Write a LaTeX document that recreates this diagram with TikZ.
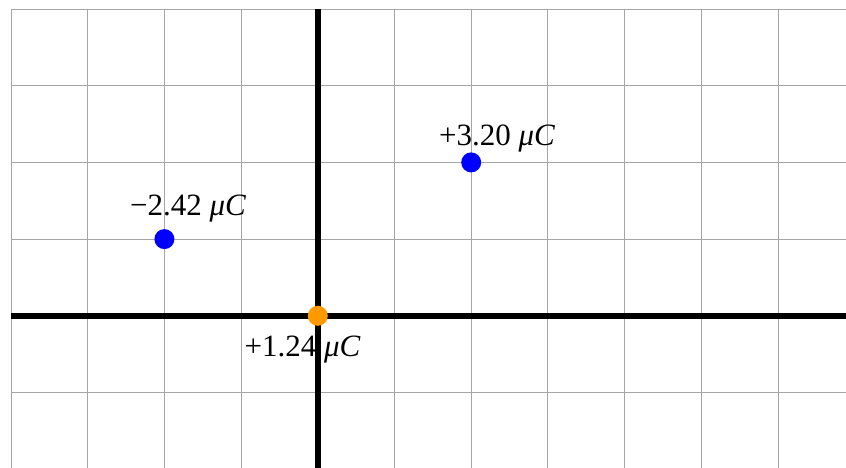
\documentclass[tikz,border=0pt]{standalone}
\usepackage{fontspec}
\setmainfont{Liberation Serif}
\begin{document}
\begin{tikzpicture}[x=1pt,y=-1pt,
  gridline/.style={draw=black!35, line width=0.9pt},
  axisline/.style={draw=black, line width=5.5pt},
  charge/.style={circle, inner sep=0pt, minimum size=20pt},
  qlabel/.style={anchor=base, font=\fontsize{31}{36}\selectfont, inner sep=0pt}]
\useasboundingbox (0,0) rectangle (846,468);
\fill[white] (0,0) rectangle (846,468);
\foreach \i in {0,...,10} {
  \draw[gridline] ({11+76.7*\i},9) -- ({11+76.7*\i},468);
}
\foreach \j in {0,...,5} {
  \draw[gridline] (11,{9+76.7*\j}) -- (846,{9+76.7*\j});
}
\coordinate (ytop) at (318,9);
\coordinate (ybot) at (318,468);
\coordinate (xl) at (11,316);
\coordinate (xr) at (846,316);
\draw[axisline] (ytop) -- (ybot);
\draw[axisline] (xl) -- (xr);
\node[charge, fill={rgb,255:red,0;green,0;blue,255}] (q1) at (164.4,239.1) {};
\node[charge, fill={rgb,255:red,0;green,0;blue,255}] (q2) at (471.2,162.4) {};
\node[charge, fill={rgb,255:red,255;green,153;blue,0}] (q0) at (317.8,315.8) {};
\node[qlabel] (l1) at (188,215) {−2.42 {\itshape μC}};
\node[qlabel] (l2) at (497,146) {+3.20 {\itshape μC}};
\node[qlabel] (l0) at (302.5,356) {+1.24 {\itshape μC}};
\end{tikzpicture}
\end{document}
